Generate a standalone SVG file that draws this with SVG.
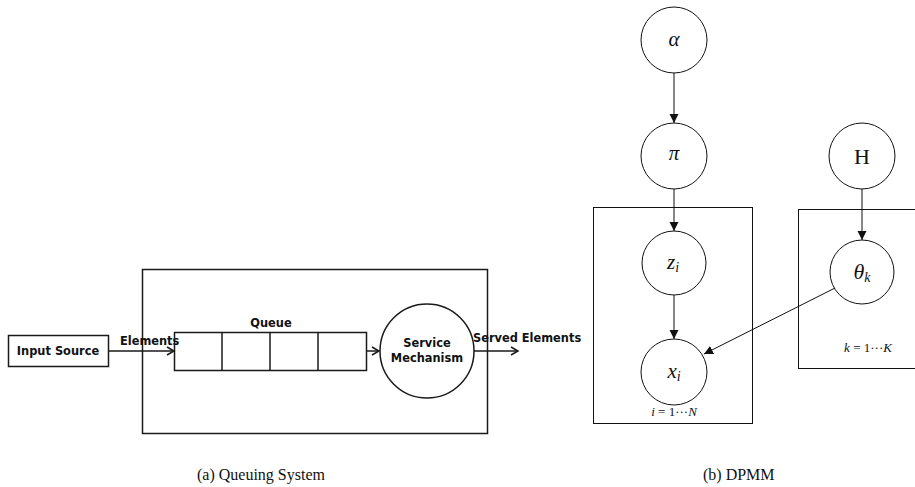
<svg xmlns="http://www.w3.org/2000/svg" width="915" height="487" viewBox="0 0 915 487">
<style>
.q{fill:none;stroke:#1a1a1a;stroke-width:1.5}
.qt{font-family:"DejaVu Sans",sans-serif;font-weight:bold;font-size:11.4px;fill:#111}
.p{fill:none;stroke:#111;stroke-width:1}
.n{fill:#fff;stroke:#111;stroke-width:1}
.m{font-family:"Liberation Serif",serif;font-style:italic;fill:#111}
.cap{font-family:"Liberation Serif",serif;font-size:16px;fill:#111}
</style>
<defs>
<marker id="open" markerWidth="10" markerHeight="10" refX="8" refY="5" orient="auto" markerUnits="userSpaceOnUse">
<path d="M1,1 L8,5 L1,9" fill="none" stroke="#1a1a1a" stroke-width="1.5"/>
</marker>
<marker id="tri" markerWidth="10" markerHeight="12" refX="9" refY="4.5" orient="auto" markerUnits="userSpaceOnUse">
<path d="M0,0 L9,4.5 L0,9 Z" fill="#111"/>
</marker>
</defs>

<g id="queuing-system">
<rect id="system-box" class="q" x="142.5" y="269.5" width="345" height="164"/>
<g id="input-source">
<rect class="q" x="8.5" y="335.5" width="100" height="31"/>
<text class="qt" x="58" y="355" text-anchor="middle">Input Source</text>
</g>
<g id="queue">
<rect class="q" x="174.5" y="332.5" width="192" height="38"/>
<line class="q" x1="222" y1="332.5" x2="222" y2="370.5"/>
<line class="q" x1="270" y1="332.5" x2="270" y2="370.5"/>
<line class="q" x1="318" y1="332.5" x2="318" y2="370.5"/>
<text class="qt" x="271" y="327" text-anchor="middle">Queue</text>
</g>
<g id="service-mechanism">
<circle class="q" cx="427" cy="351" r="47"/>
<text class="qt" x="427" y="347" text-anchor="middle">Service</text>
<text class="qt" x="427" y="362" text-anchor="middle">Mechanism</text>
</g>
<g id="queue-connectors">
<line class="q" x1="108.5" y1="351" x2="174" y2="351" marker-end="url(#open)"/>
<line class="q" x1="366.5" y1="351" x2="379" y2="351" marker-end="url(#open)"/>
<line class="q" x1="474" y1="351" x2="518" y2="351" marker-end="url(#open)"/>
<text class="qt" x="120" y="345">Elements</text>
<text class="qt" x="473" y="342">Served Elements</text>
</g>
</g>

<g id="dpmm">
<rect id="plate-n" class="p" x="593.5" y="207.5" width="159" height="216"/>
<rect id="plate-k" class="p" x="798.5" y="209.5" width="130" height="159"/>
<g id="node-alpha"><circle class="n" cx="674" cy="40" r="33"/><text class="m" x="674" y="46" font-size="21" text-anchor="middle">α</text></g>
<g id="node-pi"><circle class="n" cx="674" cy="156" r="33"/><text class="m" x="674" y="160" font-size="21" text-anchor="middle">π</text></g>
<g id="node-H"><circle class="n" cx="862" cy="156" r="33"/><text x="862" y="164" font-family="Liberation Serif,serif" font-size="22" fill="#111" text-anchor="middle">H</text></g>
<g id="node-z"><circle class="n" cx="674" cy="263" r="32"/><text class="m" x="673" y="269" font-size="21" text-anchor="middle">z<tspan font-size="14" dy="3">i</tspan></text></g>
<g id="node-theta"><circle class="n" cx="862" cy="272" r="32"/><text class="m" x="862" y="279" font-size="22" text-anchor="middle">θ<tspan font-size="14" dy="3">k</tspan></text></g>
<g id="node-x"><circle class="n" cx="674" cy="372" r="33"/><text class="m" x="674" y="378" font-size="21" text-anchor="middle">x<tspan font-size="14" dy="3">i</tspan></text></g>
<text x="674" y="416" font-family="Liberation Serif,serif" font-size="13" fill="#111" text-anchor="middle"><tspan font-style="italic">i</tspan> = 1···<tspan font-style="italic">N</tspan></text>
<text x="868" y="352" font-family="Liberation Serif,serif" font-size="13" fill="#111" text-anchor="middle"><tspan font-style="italic">k</tspan> = 1···<tspan font-style="italic">K</tspan></text>
<g id="dpmm-connectors">
<line class="p" x1="674" y1="73" x2="674" y2="123" marker-end="url(#tri)"/>
<line class="p" x1="674" y1="189" x2="674" y2="231" marker-end="url(#tri)"/>
<line class="p" x1="862" y1="189" x2="862" y2="240" marker-end="url(#tri)"/>
<line class="p" x1="674" y1="295" x2="674" y2="339" marker-end="url(#tri)"/>
<line class="p" x1="835" y1="288" x2="704" y2="354" marker-end="url(#tri)"/>
</g>
</g>

<text class="cap" x="197" y="480">(a) Queuing System</text>
<text class="cap" x="703" y="480">(b) DPMM</text>
</svg>
